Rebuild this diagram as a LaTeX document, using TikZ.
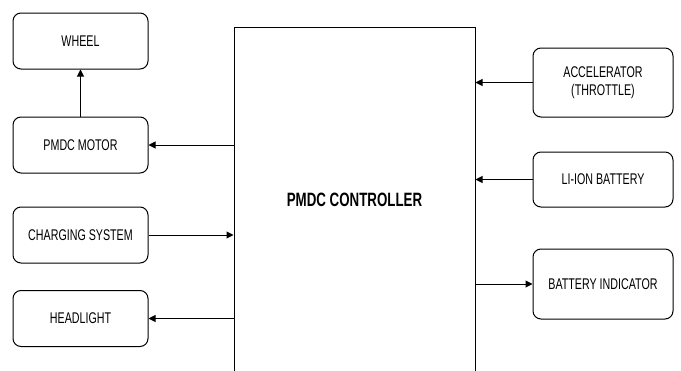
\documentclass[tikz,border=0pt]{standalone}
\usepackage{fontspec}
\setmainfont{Liberation Sans}[FakeStretch=0.69]
\usetikzlibrary{arrows.meta}

\begin{document}
\begin{tikzpicture}[x=1pt, y=-1pt, font=\fontsize{15.5}{18}\selectfont,
		block/.style={draw, rectangle, rounded corners=8pt, line width=1pt, inner sep=0pt, align=center},
		link/.style={-{Triangle[length=7pt, width=7pt]}, line width=1pt}]
				\useasboundingbox (0,0) rectangle (681,370);
				\clip (0,0) rectangle (681,370);

				% Controller
				\node[draw, rectangle, line width=1pt, minimum width=241pt, minimum height=346pt, font=\fontsize{19.3}{21}\selectfont\bfseries] (controller) at (354.5,200) {PMDC CONTROLLER};

				% Left side
				\node[block, minimum width=135pt, minimum height=56pt] (wheel) at (80.5,41) {WHEEL};
				\node[block, minimum width=135pt, minimum height=56pt] (motor) at (80.5,145) {PMDC MOTOR};
				\node[block, minimum width=135pt, minimum height=56pt] (charging) at (80.5,235) {CHARGING SYSTEM};
				\node[block, minimum width=135pt, minimum height=56pt] (headlight) at (80.5,318.5) {HEADLIGHT};
				\draw[link] (motor) -- (wheel);
				\draw[link] (motor.east -| controller.west) -- (motor.east);
				\draw[link] (charging.east) -- (charging.east -| controller.west);
				\draw[link] (headlight.east -| controller.west) -- (headlight.east);

				% Right side
				\node[block, minimum width=140pt, minimum height=69pt] (throttle) at (603,82.5) {ACCELERATOR\\(THROTTLE)};
				\node[block, minimum width=140pt, minimum height=55pt] (battery) at (603,179.5) {LI-ION BATTERY};
				\node[block, minimum width=140pt, minimum height=70pt] (indicator) at (603,284) {BATTERY INDICATOR};
				\draw[link] (throttle.west) -- (throttle.west -| controller.east);
				\draw[link] (battery.west) -- (battery.west -| controller.east);
				\draw[link] (indicator.west -| controller.east) -- (indicator.west);
			\end{tikzpicture}
\end{document}
